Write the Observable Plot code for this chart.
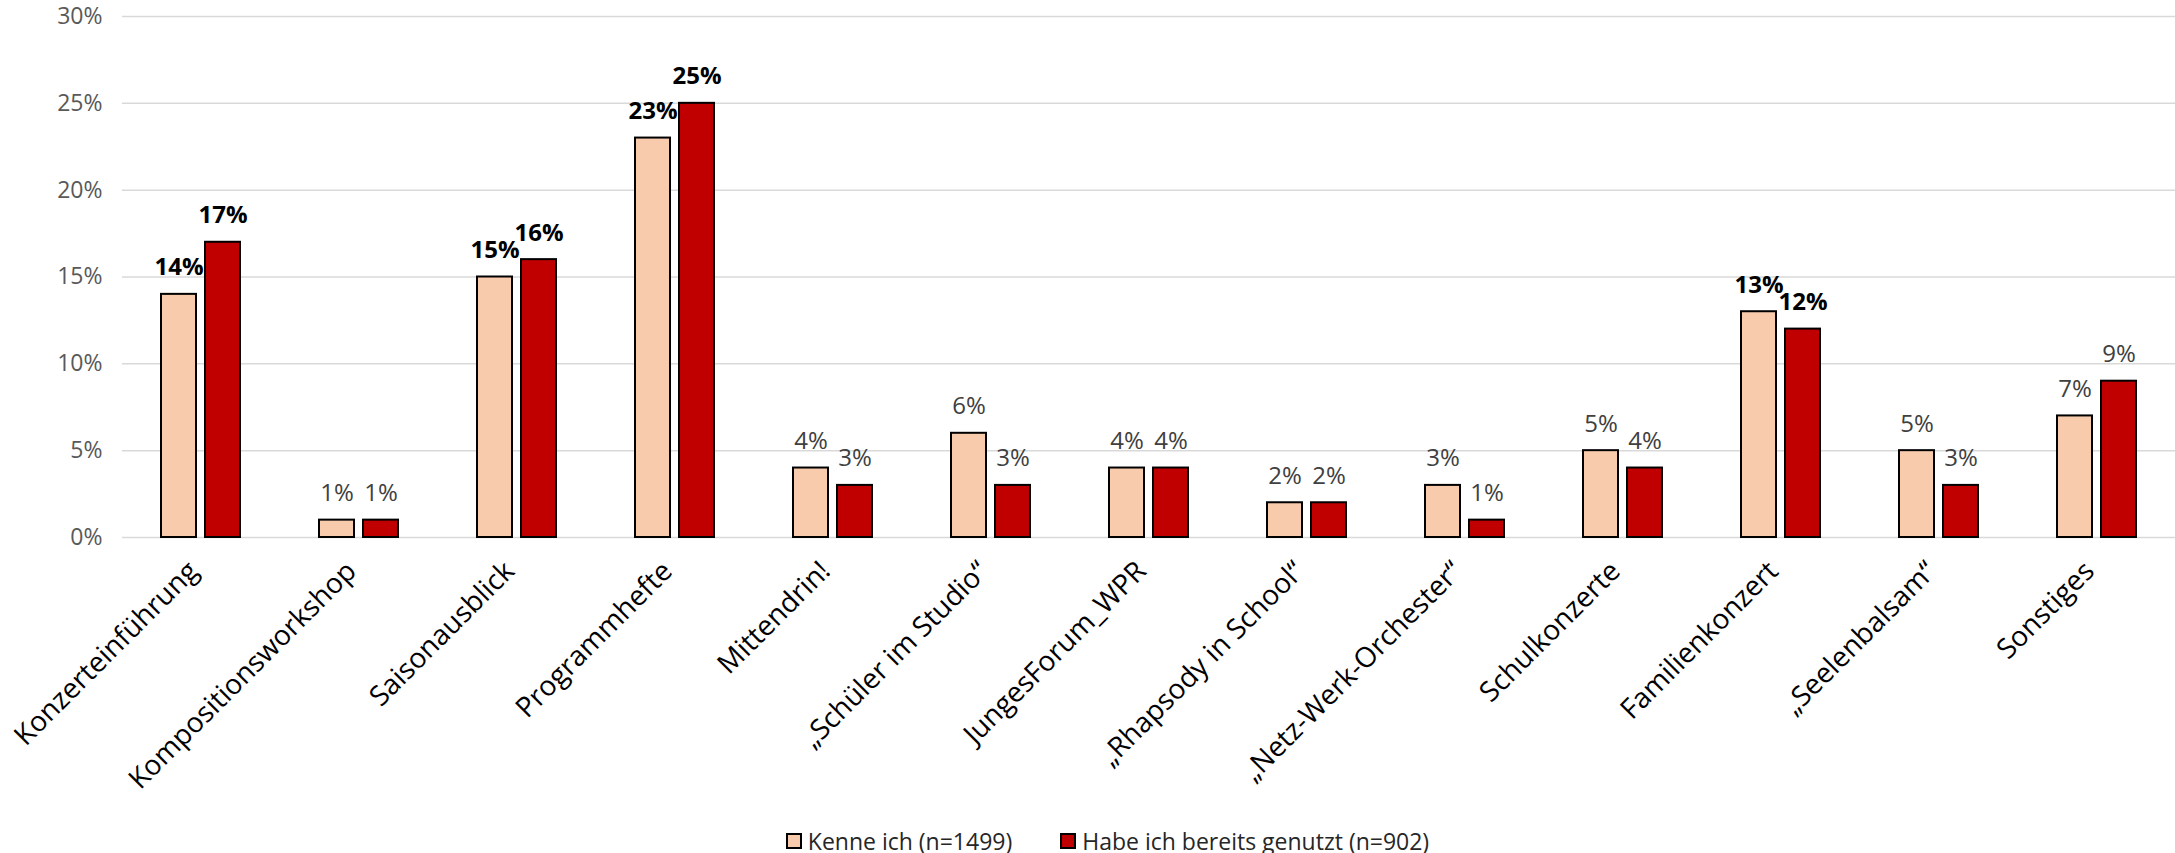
<!DOCTYPE html>
<html>
<head>
<meta charset="utf-8">
<script src="https://cdn.jsdelivr.net/npm/d3@7"></script>
<script src="https://cdn.jsdelivr.net/npm/@observablehq/plot@0.6"></script>
<style>
  html, body { margin: 0; padding: 0; background: #fff; overflow: hidden; }
  #chart svg { display: block; }
  #legend { width: 2175px; display: flex; justify-content: center; align-items: center; font-family: "Open Sans", sans-serif; font-size: 23px; color: #262626; height: 27px; transform: translateX(20px); }
  .item { display: flex; align-items: center; margin: 0 24px; }
  .sw { width: 16px; height: 16px; border: 2px solid #000; margin-right: 6px; box-sizing: border-box; }
</style>
</head>
<body>
<div id="chart"></div>
<div id="legend"></div>
<script>
const categories = ["Konzerteinführung", "Kompositionsworkshop", "Saisonausblick", "Programmhefte", "Mittendrin!", "„Schüler im Studio“", "JungesForum_WPR", "„Rhapsody in School“", "„Netz-Werk-Orchester“", "Schulkonzerte", "Familienkonzert", "„Seelenbalsam“", "Sonstiges"];
const seriesNames = ["Kenne ich (n=1499)", "Habe ich bereits genutzt (n=902)"];
const kenneIch = [14, 1, 15, 23, 4, 6, 4, 2, 3, 5, 13, 5, 7];
const genutzt = [17, 1, 16, 25, 3, 3, 4, 2, 1, 4, 12, 3, 9];
const yTicks = [0, 5, 10, 15, 20, 25, 30];
const colors = ["#F8CBAD", "#C00000"];

const data = categories.flatMap((c, i) => [
  {cat: c, series: seriesNames[0], value: kenneIch[i]},
  {cat: c, series: seriesNames[1], value: genutzt[i]}
]);
const isBold = d => d.value >= 10;

const chart = Plot.plot({
  width: 2175,
  height: 827,
  marginLeft: 117,
  marginRight: -6,
  marginTop: 16,
  marginBottom: 290,
  style: {fontFamily: "Open Sans, sans-serif", background: "#fff", overflow: "hidden"},
  fx: {domain: categories, padding: 0, label: null},
  x: {domain: seriesNames, paddingInner: 0.2, paddingOuter: 0.864, axis: null},
  y: {domain: [0, 30], label: null},
  color: {domain: seriesNames, range: colors},
  marks: [
    Plot.gridY(yTicks, {stroke: "#d9d9d9", strokeOpacity: 1, strokeWidth: 1.5}),
    Plot.axisY(yTicks, {tickFormat: d => d + "%", tickSize: 0, tickPadding: 20, fontSize: 23, fill: "#595959", label: null}),
    Plot.barY(data, {fx: "cat", x: "series", y: "value", fill: "series", stroke: "#000", strokeWidth: 2}),
    Plot.text(data.filter(isBold), {fx: "cat", x: "series", y: "value", text: d => d.value + "%", dy: -19, fontSize: 24, fontWeight: "bold", fill: "#000", lineAnchor: "bottom"}),
    Plot.text(data.filter(d => !isBold(d)), {fx: "cat", x: "series", y: "value", text: d => d.value + "%", dy: -19, fontSize: 24, fill: "#404040", lineAnchor: "bottom"}),
    Plot.axisFx({anchor: "bottom", tickRotate: -45, tickSize: 0, tickPadding: 29, dx: -8, fontSize: 28, fill: "#000", label: null})
  ]
});
document.getElementById("chart").appendChild(chart);

const legend = document.getElementById("legend");
seriesNames.forEach((name, i) => {
  const item = document.createElement("div");
  item.className = "item";
  const sw = document.createElement("div");
  sw.className = "sw";
  sw.style.background = colors[i];
  const label = document.createElement("span");
  label.textContent = name;
  item.appendChild(sw);
  item.appendChild(label);
  legend.appendChild(item);
});
</script>
</body>
</html>
